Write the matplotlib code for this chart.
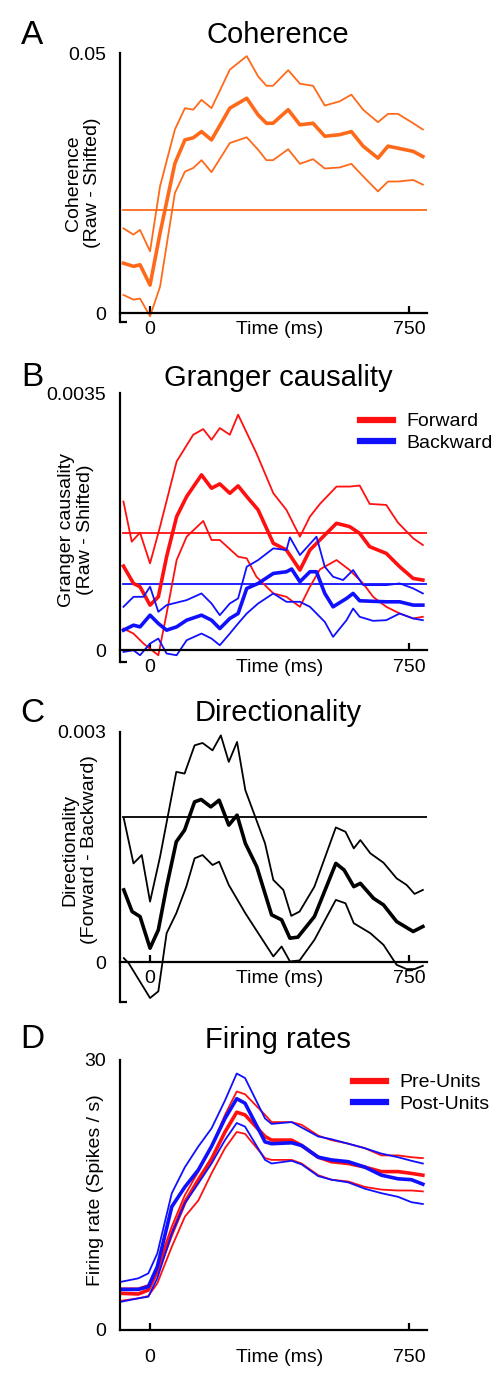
import matplotlib
matplotlib.use("Agg")
import matplotlib.pyplot as plt
from matplotlib.lines import Line2D

plt.rcParams['font.family'] = ['Liberation Sans', 'DejaVu Sans']

ORANGE = '#ff6a1a'
RED = '#ff1010'
BLUE = '#1010ff'

# ---- A: coherence (raw - shifted) ----
coh_t = [-77, -48, -29, 0, 29, 72, 101, 125, 149, 178, 231, 280, 313, 337, 356,
         400, 434, 472, 506, 549, 583, 617, 660, 689, 718, 762, 790]
coh_mean = [0.0096, 0.0090, 0.0093, 0.0054, 0.0154, 0.0288, 0.0333, 0.0337, 0.0349,
            0.0333, 0.0394, 0.0413, 0.0381, 0.0365, 0.0365, 0.0391, 0.0362, 0.0365,
            0.0340, 0.0343, 0.0349, 0.0321, 0.0298, 0.0321, 0.0317, 0.0311, 0.0301]
coh_upper = [0.0163, 0.0151, 0.0160, 0.0119, 0.0244, 0.0353, 0.0394, 0.0391, 0.0410,
             0.0394, 0.0468, 0.0494, 0.0455, 0.0437, 0.0437, 0.0467, 0.0441, 0.0437,
             0.0399, 0.0407, 0.0420, 0.0391, 0.0367, 0.0383, 0.0383, 0.0365, 0.0353]
coh_lower = [0.0035, 0.0026, 0.0028, -0.0006, 0.0051, 0.0231, 0.0272, 0.0279, 0.0294,
             0.0271, 0.0327, 0.0338, 0.0314, 0.0294, 0.0294, 0.0315, 0.0287, 0.0296,
             0.0278, 0.0280, 0.0287, 0.0263, 0.0234, 0.0253, 0.0253, 0.0256, 0.0247]
coh_thresh = 0.0199

# ---- B: Granger causality (x1e-3) ----
fwd_mean_t = [-77, -48, -29, 0, 24, 48, 77, 106, 149, 178, 202, 231, 255, 280, 313,
              357, 395, 434, 463, 506, 540, 578, 607, 636, 684, 723, 762, 790]
fwd_mean = [1.145, 0.909, 0.864, 0.614, 0.727, 1.273, 1.818, 2.091, 2.386, 2.204, 2.263,
            2.136, 2.236, 2.091, 1.909, 1.455, 1.364, 1.091, 1.364, 1.568, 1.727, 1.682,
            1.591, 1.409, 1.318, 1.136, 0.977, 0.955]
fwd_up_t = [-77, -53, -29, 0, 29, 77, 125, 154, 178, 202, 231, 255, 308, 357, 395,
            434, 463, 492, 540, 578, 607, 636, 684, 718, 762, 790]
fwd_upper = [2.023, 1.477, 1.600, 1.182, 1.682, 2.568, 2.932, 3.009, 2.864, 3.023, 2.932,
             3.205, 2.682, 2.136, 1.909, 1.545, 1.818, 1.991, 2.227, 2.227, 2.241, 1.991,
             1.977, 1.736, 1.523, 1.432]
fwd_lo_t = [-77, -48, -19, 24, 48, 77, 106, 154, 178, 202, 255, 280, 308, 357, 395,
            434, 463, 492, 540, 578, 617, 646, 684, 723, 762, 790]
fwd_lower = [0.295, 0.227, 0.091, -0.068, 0.500, 1.227, 1.545, 1.759, 1.500, 1.500, 1.273,
             1.250, 1.000, 0.773, 0.727, 0.591, 0.864, 1.100, 1.227, 1.091, 0.909, 0.727,
             0.591, 0.500, 0.432, 0.455]
bwd_mean_t = [-77, -48, -29, 0, 24, 48, 77, 106, 149, 178, 202, 231, 255, 280, 313,
              357, 395, 410, 434, 463, 482, 506, 530, 569, 588, 607, 684, 723, 762, 790]
bwd_mean = [0.273, 0.341, 0.318, 0.477, 0.364, 0.273, 0.318, 0.409, 0.477, 0.409, 0.295,
            0.432, 0.500, 0.841, 0.909, 1.045, 1.068, 1.105, 0.932, 1.068, 1.068, 0.773,
            0.591, 0.705, 0.773, 0.673, 0.659, 0.659, 0.614, 0.614]
bwd_up_t = [-77, -48, -19, 0, 24, 48, 106, 149, 178, 202, 231, 255, 280, 313, 357,
            395, 405, 434, 482, 506, 530, 559, 588, 617, 684, 723, 762, 790]
bwd_upper = [0.591, 0.727, 0.727, 0.864, 0.523, 0.614, 0.682, 0.773, 0.636, 0.477, 0.636,
             0.705, 1.136, 1.227, 1.386, 1.364, 1.536, 1.295, 1.545, 1.136, 1.000, 0.955,
             1.091, 0.886, 0.886, 0.909, 0.841, 0.773]
bwd_lo_t = [-77, -48, -29, 0, 24, 48, 77, 106, 149, 178, 202, 231, 255, 280, 313, 357,
            395, 434, 463, 506, 530, 569, 588, 607, 646, 684, 723, 762, 790]
bwd_lower = [-0.023, 0.0, -0.068, 0.091, 0.159, -0.045, -0.068, 0.136, 0.227, 0.159,
             0.068, 0.227, 0.364, 0.500, 0.636, 0.773, 0.659, 0.659, 0.591, 0.386, 0.182,
             0.409, 0.568, 0.455, 0.400, 0.409, 0.500, 0.432, 0.409]
fwd_thresh = 1.600
bwd_thresh = 0.895

# ---- C: directionality (x1e-3) ----
dir_mean_t = [-76, -52, -29, 0, 24, 48, 76, 100, 129, 148, 176, 200, 228, 252, 276,
              309, 352, 381, 405, 428, 476, 538, 562, 590, 609, 647, 676, 714, 762, 790]
dir_mean = [0.941, 0.659, 0.594, 0.182, 0.420, 0.984, 1.569, 1.721, 2.089, 2.120, 2.024,
            2.111, 1.786, 1.916, 1.548, 1.244, 0.616, 0.551, 0.312, 0.325, 0.594, 1.287,
            1.201, 0.984, 1.027, 0.832, 0.746, 0.529, 0.399, 0.464]
dir_up_t = [-76, -48, -24, 0, 29, 76, 100, 129, 152, 181, 205, 228, 252, 276, 333,
            357, 386, 409, 433, 476, 538, 566, 590, 609, 638, 676, 714, 743, 766, 790]
dir_upper = [1.873, 1.287, 1.396, 0.789, 1.374, 2.480, 2.458, 2.826, 2.857, 2.761, 2.956,
             2.610, 2.870, 2.241, 1.548, 1.071, 0.941, 0.603, 0.659, 0.984, 1.756, 1.699,
             1.483, 1.591, 1.418, 1.296, 1.092, 1.006, 0.889, 0.941]
dir_lo_t = [-76, -62, 0, 24, 48, 76, 105, 129, 152, 181, 200, 228, 276, 357, 381, 405,
            433, 476, 538, 566, 590, 638, 676, 714, 743, 766, 790]
dir_lower = [0.052, -0.013, -0.468, -0.381, 0.377, 0.637, 0.984, 1.353, 1.396, 1.266,
             1.309, 1.006, 0.637, 0.074, 0.204, 0.009, 0.022, 0.290, 0.811, 0.767, 0.507,
             0.377, 0.225, -0.035, -0.091, -0.091, -0.048]
dir_thresh = 1.894

# ---- D: firing rates (spikes / s) ----
fr_t = [-82, -34, -5, 21, 63, 101, 140, 178, 217, 251, 275, 333, 352, 410, 439, 487,
        525, 574, 622, 670, 718, 757, 790]
pre_mean = [4.07, 4.00, 4.44, 6.48, 10.7, 14.2, 16.7, 19.0, 22.0, 24.2, 23.9, 21.5, 21.1,
            21.1, 20.5, 19.2, 18.7, 18.5, 18.1, 17.6, 17.6, 17.4, 17.2]
pre_upper = [4.63, 4.63, 5.00, 7.03, 11.5, 15.0, 17.6, 20.4, 23.9, 26.5, 26.2, 23.9, 23.1,
             23.1, 22.8, 21.6, 21.1, 20.7, 20.2, 19.4, 19.4, 19.2, 19.1]
pre_lower = [3.26, 3.52, 3.77, 5.18, 9.25, 12.6, 14.4, 17.4, 20.2, 22.0, 21.8, 19.1, 18.9,
             18.9, 18.5, 17.2, 16.7, 16.5, 15.9, 15.6, 15.5, 15.5, 15.4]
post_mean = [4.51, 4.51, 4.81, 7.03, 13.7, 15.9, 17.8, 20.4, 23.5, 25.7, 25.2, 20.9, 20.7,
             20.8, 20.5, 19.2, 18.9, 18.7, 18.1, 17.2, 16.8, 16.7, 16.2]
post_upper = [5.37, 5.74, 6.29, 8.51, 15.2, 18.1, 20.4, 22.4, 25.5, 28.5, 28.0, 23.5, 22.9,
              23.1, 22.5, 21.5, 21.2, 20.7, 20.2, 19.6, 19.2, 18.8, 18.5]
post_lower = [3.15, 3.52, 3.70, 5.74, 10.7, 14.1, 16.3, 18.5, 21.1, 23.0, 22.6, 18.9, 18.5,
              18.8, 18.4, 17.1, 16.7, 16.4, 15.7, 15.2, 14.8, 14.2, 14.0]

W, H = 498, 1390
fig = plt.figure(figsize=(W / 100, H / 100), dpi=100)
THIN, THICK = 1.3, 2.6
XLIM = (-87, 802)
TICK_FS = 14


def make_axes(top_px, bottom_px, ymin, ymax, top_label):
    ax = fig.add_axes([120 / W, 1 - bottom_px / H, 307 / W, (bottom_px - top_px) / H])
    ax.set_xlim(*XLIM)
    ax.set_ylim(ymin, ymax)
    for s in ['top', 'right']:
        ax.spines[s].set_visible(False)
    ax.spines['left'].set_linewidth(1.6)
    ax.spines['bottom'].set_position(('data', 0))
    ax.spines['bottom'].set_linewidth(1.6)
    ax.set_yticks([0, ymax])
    ax.set_yticklabels(['0', top_label])
    ax.set_yticks([ymin, ymax], minor=True)
    ax.tick_params(axis='y', which='major', length=0, pad=10, labelsize=TICK_FS)
    ax.tick_params(axis='y', which='minor', direction='in', length=5, width=1.6)
    ax.set_xticks([0, 375, 750])
    ax.set_xticklabels(['0', 'Time (ms)', '750'])
    ax.tick_params(axis='x', direction='in', length=5, width=1.6, pad=6, labelsize=TICK_FS)
    ax.xaxis.get_major_ticks()[1].tick1line.set_visible(False)
    ax.patch.set_visible(False)
    return ax


def header(letter, title, y_px):
    fig.text(32 / W, 1 - y_px / H, letter, fontsize=24, ha='center', va='center')
    fig.text(278 / W, 1 - y_px / H, title, fontsize=21, ha='center', va='center')


def ylabel(text, x_px, y_px):
    fig.text(x_px / W, 1 - y_px / H, text, rotation=90, fontsize=14,
             ha='center', va='center', multialignment='center')


def legend(labels, x_px, y_px):
    fig.legend(handles, labels, loc='upper left', frameon=False,
               bbox_to_anchor=(x_px / W, 1 - y_px / H), fontsize=14, handlelength=1.7,
               handletextpad=0.7, labelspacing=0.2, borderaxespad=0)


handles = [Line2D([], [], color=RED, lw=4.5), Line2D([], [], color=BLUE, lw=4.5)]

# A
header('A', 'Coherence', 35)
ax = make_axes(53, 322, -0.0017, 0.05, '0.05')
ax.axhline(coh_thresh, color=ORANGE, lw=THIN, xmin=0.01)
ax.plot(coh_t, coh_upper, color=ORANGE, lw=THIN)
ax.plot(coh_t, coh_lower, color=ORANGE, lw=THIN)
ax.plot(coh_t, coh_mean, color=ORANGE, lw=THICK)
ylabel('Coherence\n(Raw - Shifted)', 83, 183)

# B
header('B', 'Granger causality', 378)
s = 1e-3
ax = make_axes(393, 662, -0.00016, 0.0035, '0.0035')
ax.axhline(fwd_thresh * s, color=RED, lw=THIN, xmin=0.01)
ax.axhline(bwd_thresh * s, color=BLUE, lw=THIN, xmin=0.01)
ax.plot(fwd_up_t, [v * s for v in fwd_upper], color=RED, lw=THIN)
ax.plot(fwd_lo_t, [v * s for v in fwd_lower], color=RED, lw=THIN)
ax.plot(fwd_mean_t, [v * s for v in fwd_mean], color=RED, lw=THICK)
ax.plot(bwd_up_t, [v * s for v in bwd_upper], color=BLUE, lw=THIN)
ax.plot(bwd_lo_t, [v * s for v in bwd_lower], color=BLUE, lw=THIN)
ax.plot(bwd_mean_t, [v * s for v in bwd_mean], color=BLUE, lw=THICK)
legend(['Forward', 'Backward'], 352, 405)
ylabel('Granger causality\n(Raw - Shifted)', 76, 530)

# C
header('C', 'Directionality', 713)
ax = make_axes(732, 1002, -0.00052, 0.003, '0.003')
ax.axhline(dir_thresh * s, color='black', lw=THIN, xmin=0.01)
ax.plot(dir_up_t, [v * s for v in dir_upper], color='black', lw=THIN)
ax.plot(dir_lo_t, [v * s for v in dir_lower], color='black', lw=THIN)
ax.plot(dir_mean_t, [v * s for v in dir_mean], color='black', lw=THICK)
ylabel('Directionality\n(Forward - Backward)', 80, 850)

# D
header('D', 'Firing rates', 1040)
ax = make_axes(1060, 1330, 0, 30, '30')
ax.tick_params(axis='x', pad=14)
for lo, hi, mid, c in [(pre_lower, pre_upper, pre_mean, RED),
                       (post_lower, post_upper, post_mean, BLUE)]:
    ax.plot(fr_t, hi, color=c, lw=THIN)
    ax.plot(fr_t, lo, color=c, lw=THIN)
    ax.plot(fr_t, mid, color=c, lw=THICK)
legend(['Pre-Units', 'Post-Units'], 345, 1066)
ylabel('Firing rate (Spikes / s)', 95, 1190)

fig.savefig('out.png', dpi=100)
